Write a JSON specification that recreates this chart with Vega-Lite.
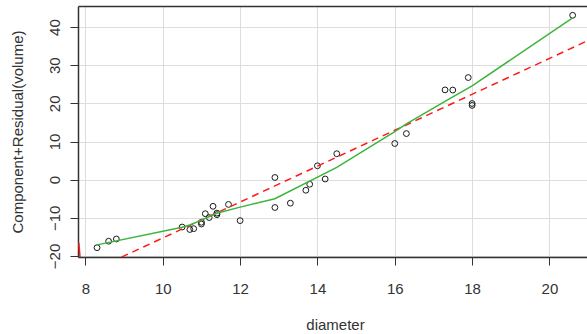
{
  "$schema": "https://vega.github.io/schema/vega-lite/v6.json",
  "width": 509,
  "height": 251,
  "autosize": {"type": "none"},
  "padding": {"left": 78, "top": 6, "right": 0, "bottom": 77},
  "background": "white",
  "config": {
    "view": {"stroke": null},
    "font": "Liberation Sans",
    "axis": {
      "labelFont": "Liberation Sans",
      "titleFont": "Liberation Sans",
      "labelFontSize": 15,
      "titleFontSize": 15,
      "titleFontWeight": "normal",
      "labelColor": "#333333",
      "titleColor": "#333333",
      "domainColor": "#333333",
      "domainWidth": 1.5,
      "tickColor": "#333333",
      "tickSize": 8,
      "tickWidth": 1,
      "gridColor": "#dddddd",
      "gridWidth": 1
    }
  },
  "datasets": {
    "points": [
      {"diameter": 8.3, "cr": -17.84},
      {"diameter": 8.6, "cr": -16.14},
      {"diameter": 8.8, "cr": -15.56},
      {"diameter": 10.5, "cr": -12.42},
      {"diameter": 10.7, "cr": -13.07},
      {"diameter": 10.8, "cr": -12.85},
      {"diameter": 11.0, "cr": -11.18},
      {"diameter": 11.0, "cr": -11.64},
      {"diameter": 11.1, "cr": -8.93},
      {"diameter": 11.2, "cr": -9.94},
      {"diameter": 11.3, "cr": -6.99},
      {"diameter": 11.4, "cr": -9.18},
      {"diameter": 11.4, "cr": -8.78},
      {"diameter": 11.7, "cr": -6.50},
      {"diameter": 12.0, "cr": -10.74},
      {"diameter": 12.9, "cr": -7.30},
      {"diameter": 12.9, "cr": 0.57},
      {"diameter": 13.3, "cr": -6.17},
      {"diameter": 13.7, "cr": -2.78},
      {"diameter": 13.8, "cr": -1.21},
      {"diameter": 14.0, "cr": 3.64},
      {"diameter": 14.2, "cr": 0.17},
      {"diameter": 14.5, "cr": 6.80},
      {"diameter": 16.0, "cr": 9.48},
      {"diameter": 16.3, "cr": 12.08},
      {"diameter": 17.3, "cr": 23.53},
      {"diameter": 17.5, "cr": 23.49},
      {"diameter": 17.9, "cr": 26.77},
      {"diameter": 18.0, "cr": 19.97},
      {"diameter": 18.0, "cr": 19.47},
      {"diameter": 20.6, "cr": 43.09}
    ],
    "smooth": [
      {"diameter": 8.3, "cr": -17.1},
      {"diameter": 10.5, "cr": -12.5},
      {"diameter": 10.7, "cr": -11.9},
      {"diameter": 11.0, "cr": -10.6},
      {"diameter": 11.4, "cr": -8.8},
      {"diameter": 12.0, "cr": -7.2},
      {"diameter": 12.9, "cr": -5.0},
      {"diameter": 14.5, "cr": 3.2},
      {"diameter": 16.0, "cr": 12.6},
      {"diameter": 16.3, "cr": 14.6},
      {"diameter": 17.3, "cr": 20.5},
      {"diameter": 18.0, "cr": 24.6},
      {"diameter": 20.6, "cr": 42.4}
    ],
    "fit": [
      {"diameter": 7.808, "cr": -25.61},
      {"diameter": 20.971, "cr": 36.36}
    ],
    "edge": [
      {"diameter": 7.83, "cr": -16.6},
      {"diameter": 7.86, "cr": -20.28}
    ]
  },
  "layer": [
    {
      "data": {"name": "points"},
      "mark": {"type": "point", "shape": "circle", "size": 34, "filled": false, "stroke": "#1a1a1a", "strokeWidth": 1, "opacity": 1},
      "encoding": {
        "x": {
          "field": "diameter", "type": "quantitative",
          "scale": {"domain": [7.808, 20.971], "nice": false, "zero": false},
          "axis": {
            "orient": "bottom",
            "values": [8, 10, 12, 14, 16, 18, 20],
            "title": "diameter",
            "labelBaseline": "alphabetic",
            "labelPadding": 28,
            "titleX": 257,
            "titleY": 72,
            "titleBaseline": "alphabetic",
            "titleAnchor": "middle",
            "titleAlign": "center"
          }
        },
        "y": {
          "field": "cr", "type": "quantitative",
          "scale": {"domain": [-20.28, 45.53], "nice": false, "zero": false},
          "axis": {
            "values": [-20, -10, 0, 10, 20, 30, 40],
            "title": "Component+Residual(volume)",
            "labelAngle": -90,
            "labelAlign": "center",
            "labelBaseline": "alphabetic",
            "labelPadding": 11,
            "titleX": -55.6,
            "titleY": 125.5,
            "titleBaseline": "alphabetic",
            "titleAlign": "center",
            "titleAngle": -90
          }
        }
      }
    },
    {
      "data": {"name": "fit"},
      "mark": {"type": "line", "color": "#ff1a1a", "strokeWidth": 1.5, "strokeDash": [7, 5], "clip": true},
      "encoding": {
        "x": {
          "field": "diameter", "type": "quantitative",
          "scale": {"domain": [7.808, 20.971], "nice": false, "zero": false},
          "axis": {"orient": "top", "labels": false, "ticks": false, "grid": false, "title": null, "domain": true}
        },
        "y": {"field": "cr", "type": "quantitative", "scale": {"domain": [-20.28, 45.53], "nice": false, "zero": false}}
      }
    },
    {
      "data": {"name": "smooth"},
      "mark": {"type": "line", "color": "#3cb43c", "strokeWidth": 1.5, "clip": true},
      "encoding": {
        "x": {"field": "diameter", "type": "quantitative", "scale": {"domain": [7.808, 20.971], "nice": false, "zero": false}, "axis": null},
        "y": {"field": "cr", "type": "quantitative", "scale": {"domain": [-20.28, 45.53], "nice": false, "zero": false}}
      }
    },
    {
      "data": {"name": "edge"},
      "mark": {"type": "line", "color": "#ff1a1a", "strokeWidth": 1.5, "clip": true},
      "encoding": {
        "x": {"field": "diameter", "type": "quantitative", "scale": {"domain": [7.808, 20.971], "nice": false, "zero": false}, "axis": null},
        "y": {"field": "cr", "type": "quantitative", "scale": {"domain": [-20.28, 45.53], "nice": false, "zero": false}}
      }
    }
  ],
  "resolve": {"axis": {"x": "independent"}}
}
